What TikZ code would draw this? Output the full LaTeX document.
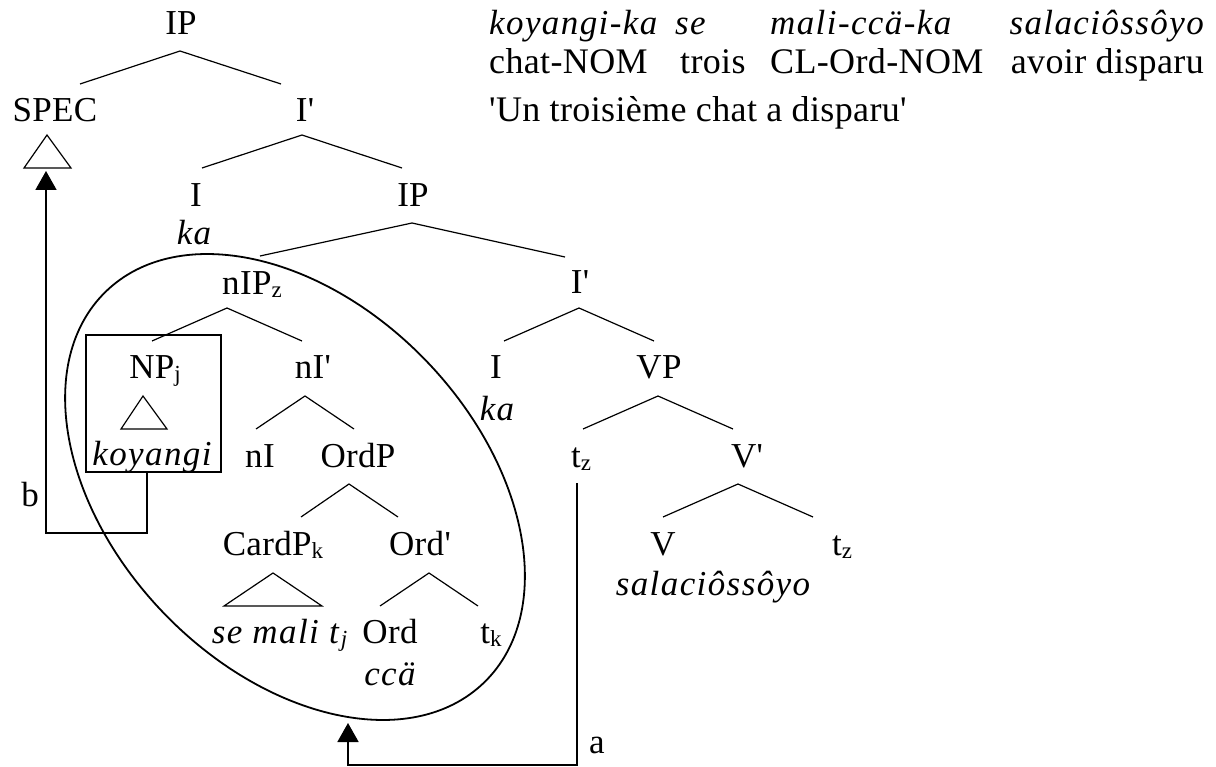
\documentclass[tikz,border=0pt]{standalone}
\usepackage{fontspec}
\setmainfont{Liberation Serif}[LetterSpace=1,Ligatures=TeXOff,ItalicFeatures={LetterSpace=4}]
\usetikzlibrary{arrows.meta,calc}
\newcommand\sbs[1]{\raisebox{-3pt}{\fontsize{23}{23}\selectfont #1}}
\begin{document}
\begin{tikzpicture}[x=1pt,y=-1pt,
  lab/.style={anchor=base,inner sep=0pt,font=\fontsize{35}{42}\selectfont},
  it/.style={lab,font=\fontsize{35}{42}\selectfont\itshape},
  gl/.style={lab,anchor=base west,font=\fontsize{36}{42}\selectfont},
  glit/.style={it,anchor=base west},
  br/.style={line width=1.2pt},
  bold/.style={line width=1.8pt},
  arr/.style={bold,-{Triangle[length=19pt,width=21pt]}}]
\useasboundingbox (0,0) rectangle (1216,767);

% gloss
\node[glit] (g11) at (489,35) {koyangi-ka};
\node[glit] (g12) at (675,35) {se};
\node[glit] (g13) at (770,35) {mali-ccä-ka};
\node[it,anchor=base east] (g14) at (1204,35) {salaciôssôyo};
\node[gl] (g21) at (489,74) {chat-NOM};
\node[gl] (g22) at (680,74) {trois};
\node[gl] (g23) at (770,74) {CL-Ord-NOM};
\node[gl,anchor=base east] (g24) at (1204,74) {avoir disparu};
\node[gl] (g31) at (489,122) {'Un troisième chat a disparu'};

% tree nodes
\node[lab] (ip1) at (181,35) {IP};
\node[lab] (spec) at (55,122) {SPEC};
\node[lab] (ib1) at (305,122) {I'};
\node[lab] (i1) at (196,207) {I};
\node[it] (ka1) at (194,245) {ka};
\node[lab] (ip2) at (413,207) {IP};
\node[lab] (nip) at (252,295) {nIP\sbs{z}};
\node[lab] (ib2) at (580,294) {I'};
\node[lab] (np) at (155,378) {NP\sbs{j}};
\node[lab] (nib) at (313,378) {nI'};
\node[lab] (i2) at (496,378) {I};
\node[it] (ka2) at (497,420) {ka};
\node[lab] (vp) at (659,378) {VP};
\node[it] (koy) at (152,465) {koyangi};
\node[lab] (ni) at (260,467) {nI};
\node[lab] (ordp) at (358,467) {OrdP};
\node[lab] (tz1) at (581,467) {t\sbs{z}};
\node[lab] (vb) at (747,467) {V'};
\node[lab] (cardp) at (273,555) {CardP\sbs{k}};
\node[lab] (ordb) at (420,555) {Ord'};
\node[lab] (v) at (663,555) {V};
\node[lab] (tz2) at (842,555) {t\sbs{z}};
\node[it] (sal) at (713,595) {salaciôssôyo};
\node[lab] (semali) at (280,643) {\textit{se mali t}\sbs{\textit{j}}};
\node[lab] (ord) at (390,643) {Ord};
\node[lab] (tk) at (491,643) {t\sbs{k}};
\node[it] (cca) at (390,685) {ccä};

% branches
\draw[br] ($(spec.base)+(25,-38)$) -- ($(ip1.base)+(-1,16)$) -- ($(ib1.base)+(-24,-38)$);
\draw[br] ($(i1.base)+(6,-39)$) -- ($(ib1.base)+(-3,13)$) -- ($(ip2.base)+(-11,-39)$);
\draw[br] ($(nip.base)+(8,-39)$) -- ($(ip2.base)+(-1,16)$) -- ($(ib2.base)+(-15,-37)$);
\draw[br] ($(np.base)+(-3,-37)$) -- ($(nip.base)+(-25,13)$) -- ($(nib.base)+(-11,-37)$);
\draw[br] ($(i2.base)+(8,-37)$) -- ($(ib2.base)+(-1,14)$) -- ($(vp.base)+(-5,-37)$);
\draw[br] ($(ni.base)+(-4,-38)$) -- ($(nib.base)+(-8,18)$) -- ($(ordp.base)+(-4,-38)$);
\draw[br] ($(tz1.base)+(2,-38)$) -- ($(vp.base)+(-1,18)$) -- ($(vb.base)+(-14,-38)$);
\draw[br] ($(cardp.base)+(28,-38)$) -- ($(ordp.base)+(-9,17)$) -- ($(ordb.base)+(-22,-38)$);
\draw[br] ($(v.base)+(0,-38)$) -- ($(vb.base)+(-9,17)$) -- ($(tz2.base)+(-29,-38)$);
\draw[br] ($(ord.base)+(-10,-37)$) -- ($(ordb.base)+(9,18)$) -- ($(tk.base)+(-13,-37)$);

% triangles
\draw[br] ($(spec.base)+(-8,13)$) -- ($(spec.base)+(-31,46)$) -- ($(spec.base)+(16,46)$) -- cycle;
\draw[br] ($(np.base)+(-12,18)$) -- ($(np.base)+(-34,51)$) -- ($(np.base)+(12,51)$) -- cycle;
\draw[br] ($(cardp.base)+(0,18)$) -- ($(cardp.base)+(-49,51)$) -- ($(cardp.base)+(49,51)$) -- cycle;

% box and ellipse
\node[draw,bold,minimum width=135pt,minimum height=137pt,inner sep=0pt] (box) at (153.5,403.5) {};
\draw[bold,rotate around={-46:(295,487)}] (295,487) ellipse [x radius=272, y radius=182];

% movement arrows
\coordinate (specbot) at ($(spec.base)+(-9,49)$);
\coordinate (tzb) at ($(tz1.base)+(-4,16)$);
\coordinate (ellb) at (348,723);
\draw[arr] ([xshift=-6.5pt]box.south) -- ++(0,60) -| (specbot);
\draw[arr] (tzb) -- ++(0,282) -| (ellb);
\node[lab] (lb) at (30,506) {b};
\node[lab] (la) at (597,753) {a};
\end{tikzpicture}
\end{document}
